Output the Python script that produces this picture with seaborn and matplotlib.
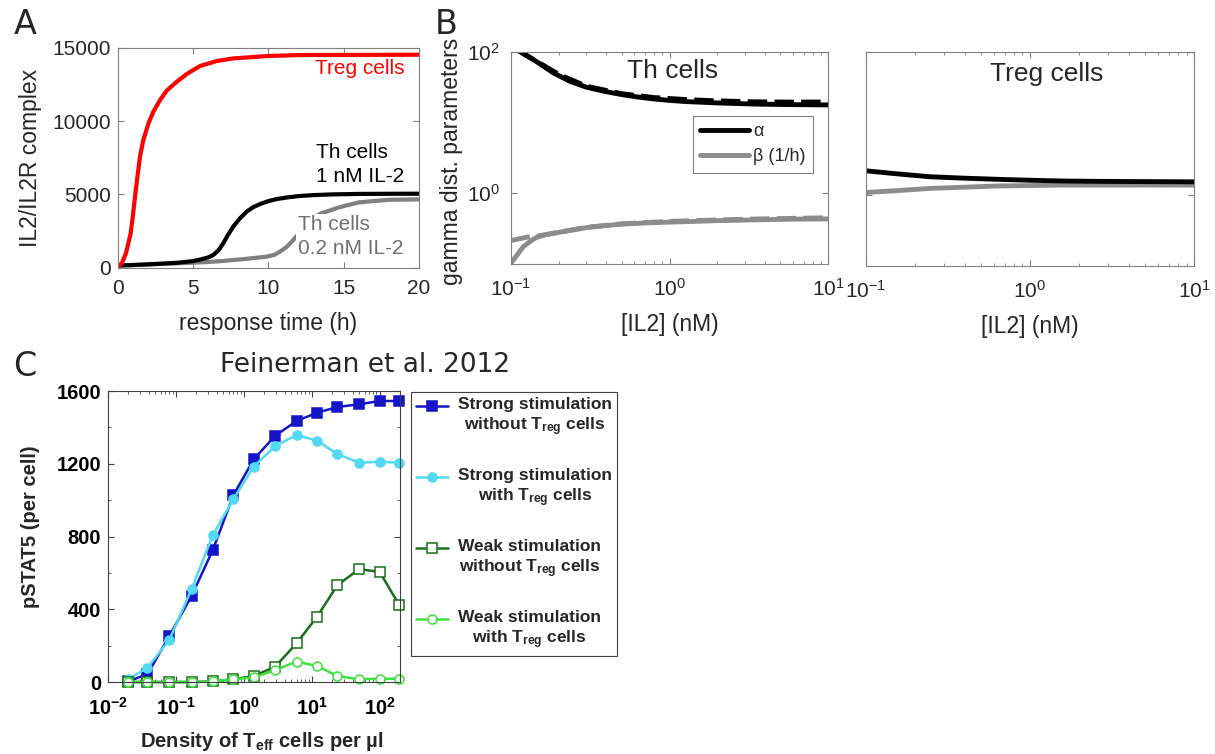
import matplotlib
matplotlib.use("Agg")
import matplotlib.pyplot as plt
import seaborn as sns
from matplotlib.ticker import LogLocator, NullLocator, NullFormatter, MultipleLocator
from matplotlib.font_manager import FontProperties
from matplotlib.legend_handler import HandlerLine2D

# ---- panel A: IL2/IL2R complex vs response time (h)
treg_t = [0, 0.27, 0.55, 0.86, 1.0, 1.15, 1.31, 1.48, 1.7, 2.04, 2.37, 2.81, 3.25, 3.92,
          4.58, 5.46, 6.57, 7.68, 9.89, 12.1, 20]
treg_v = [60, 300, 980, 2340, 3480, 4840, 6200, 7570, 8700, 9840, 10640, 11430, 12070, 12680,
          13200, 13750, 14090, 14270, 14430, 14500, 14520]

th1_t = [0, 1, 2, 3, 4, 5, 5.5, 6, 6.35, 6.7, 7.0, 7.3, 7.67, 8.1, 8.56, 9.0, 9.45, 10,
         10.55, 11.3, 12.1, 13, 14.3, 16, 18, 20]
th1_v = [150, 180, 230, 280, 340, 450, 560, 700, 870, 1200, 1650, 2200, 2800, 3350, 3820,
         4130, 4340, 4540, 4680, 4800, 4890, 4950, 5000, 5030, 5040, 5045]

th02_t = [0, 1, 2, 3, 4, 5, 6, 7, 7.67, 8.5, 9.2, 9.89, 10.4, 10.77, 11.2, 11.55, 12, 12.5,
          13, 13.5, 14, 14.5, 15, 16, 16.5, 18, 20]
th02_v = [150, 180, 220, 260, 300, 340, 390, 460, 525, 600, 680, 750, 880, 1090, 1400, 1770,
          2300, 2900, 3400, 3700, 3870, 4050, 4200, 4450, 4500, 4630, 4660]

# ---- panel B: gamma distribution parameters vs [IL2] (nM)
th_alpha_x = [0.112, 0.146, 0.186, 0.237, 0.301, 0.39, 0.489, 0.62, 0.793, 1.0, 1.285, 2.0,
              3.38, 5.5, 10]
th_alpha = [103, 72, 50, 38, 31.4, 27.5, 25, 23, 21.5, 20.5, 19.7, 18.9, 18.2, 17.9, 17.7]
th_alpha_d_x = [0.11, 0.146, 0.2, 0.3, 0.5, 0.8, 1.3, 2.0, 3.4, 6, 10]
th_alpha_d = [106, 73, 48, 32.5, 25.5, 22.5, 21, 20.2, 19.6, 19.4, 19.5]

th_beta_x = [0.1, 0.11, 0.12, 0.135, 0.146, 0.165, 0.186, 0.24, 0.301, 0.4, 0.489, 0.8,
             1.285, 2.0, 3.38, 6, 10]
th_beta = [0.102, 0.135, 0.176, 0.215, 0.239, 0.258, 0.272, 0.30, 0.327, 0.35, 0.365, 0.385,
           0.397, 0.41, 0.42, 0.43, 0.434]
th_beta_d_x = [0.1, 0.126, 0.15, 0.2, 0.3, 0.5, 1, 2, 4, 10]
th_beta_d = [0.214, 0.239, 0.25, 0.28, 0.33, 0.37, 0.40, 0.42, 0.435, 0.45]

treg_x = [0.1, 0.15, 0.246, 0.4, 0.627, 1.0, 1.6, 3, 10]
treg_alpha = [2.16, 1.97, 1.78, 1.70, 1.64, 1.59, 1.55, 1.53, 1.51]
treg_beta = [1.07, 1.13, 1.22, 1.27, 1.32, 1.34, 1.36, 1.36, 1.36]

# ---- panel C: Feinerman et al. 2012
density = [0.02, 0.038, 0.08, 0.17, 0.35, 0.7, 1.4, 2.9, 6.0, 12, 24, 50, 100, 195]
strong_no_treg = [5, 42, 253, 473, 726, 1026, 1224, 1354, 1435, 1481, 1512, 1527, 1545, 1545]
strong_treg = [15, 79, 231, 510, 808, 1004, 1184, 1297, 1358, 1327, 1253, 1206, 1211, 1206]
weak_no_treg = [0, 0, 0, 0, 3, 15, 33, 84, 213, 359, 533, 620, 606, 423]
weak_treg = [0, 0, 0, 0, 3, 15, 25, 66, 112, 88, 33, 15, 18, 18]
legend_c = ["Strong stimulation\nwithout $\\mathbf{T_{reg}}$ cells",
            "Strong stimulation\nwith $\\mathbf{T_{reg}}$ cells",
            "Weak stimulation\nwithout $\\mathbf{T_{reg}}$ cells",
            "Weak stimulation\nwith $\\mathbf{T_{reg}}$ cells"]

sns.set_style("ticks")
plt.rcParams["font.family"] = ["Liberation Sans", "DejaVu Sans"]
plt.rcParams["mathtext.fontset"] = "custom"
plt.rcParams["mathtext.rm"] = "Liberation Sans"
plt.rcParams["mathtext.it"] = "Liberation Sans:italic"
plt.rcParams["mathtext.bf"] = "Liberation Sans:bold"

W, H = 1215, 754
fig = plt.figure(figsize=(12.15, 7.54), dpi=100)


def box(l, t, r, b):
    return [l / W, 1 - b / H, (r - l) / W, (b - t) / H]


def matlab_axes(ax, color="#808080", size=15):
    for s in ax.spines.values():
        s.set_visible(True)
        s.set_color(color)
        s.set_linewidth(0.8)
    ax.tick_params(which="both", direction="in", top=True, right=True, color=color,
                   labelcolor="#262626", labelsize=size)
    ax.tick_params(which="major", length=4.5)
    ax.tick_params(which="minor", length=2.5)


class FirstLineHandler(HandlerLine2D):
    # put the legend line next to the first text line, as in the original
    def create_artists(self, legend, orig_handle, xdescent, ydescent, width, height,
                       fontsize, trans):
        arts = super().create_artists(legend, orig_handle, xdescent, ydescent, width,
                                      height, fontsize, trans)
        for a in arts:
            a.set_ydata([y + 0.68 * fontsize for y in a.get_ydata()])
        return arts


# ---------------- A
axA = fig.add_axes(box(117.7, 47.7, 419, 267.7))
sns.lineplot(x=th02_t, y=th02_v, color="#808080", lw=3, ax=axA)
sns.lineplot(x=th1_t, y=th1_v, color="black", lw=3, ax=axA)
sns.lineplot(x=treg_t, y=treg_v, color="red", lw=3, ax=axA)
axA.set_xlim(0, 20)
axA.set_ylim(0, 15000)
axA.set_xticks([0, 5, 10, 15, 20])
axA.set_yticks([0, 5000, 10000, 15000])
matlab_axes(axA)
axA.tick_params(axis="x", pad=8)
axA.tick_params(axis="y", pad=5)
axA.set_xlabel("response time (h)", fontsize=16.5, color="#262626")
axA.set_ylabel("IL2/IL2R complex", fontsize=16.5, color="#262626")
axA.xaxis.set_label_coords(0.5, -0.2)
axA.yaxis.set_label_coords(-0.251, 0.5)
axA.text(13.1, 13600, "Treg cells", color="red", fontsize=15, va="center")
axA.text(13.15, 7040, "Th cells\n1 nM IL-2", color="black", fontsize=15, va="center",
         linespacing=1.3)
axA.text(11.95, 2130, "Th cells\n0.2 nM IL-2", color="#707070", fontsize=15, va="center",
         linespacing=1.3, bbox=dict(facecolor="white", edgecolor="none", pad=1))

# ---------------- B (Th cells)
axB1 = fig.add_axes(box(510.7, 51.7, 828.3, 264))
sns.lineplot(x=th_beta_d_x, y=th_beta_d, color="#8c8c8c", lw=3.5, ls=(0, (4, 1.5)), ax=axB1)
sns.lineplot(x=th_alpha_d_x, y=th_alpha_d, color="black", lw=3.5, ls=(0, (4, 1.5)), ax=axB1)
sns.lineplot(x=th_beta_x, y=th_beta, color="#8c8c8c", lw=3.5, ax=axB1, label="β (1/h)",
             legend=False)
beta_line = axB1.lines[-1]
sns.lineplot(x=th_alpha_x, y=th_alpha, color="black", lw=3.5, ax=axB1, label="α",
             legend=False)
alpha_line = axB1.lines[-1]

# ---------------- B (Treg cells)
axB2 = fig.add_axes(box(865.7, 52.3, 1194.3, 265.7))
sns.lineplot(x=treg_x, y=treg_beta, color="#8c8c8c", lw=3.5, ax=axB2)
sns.lineplot(x=treg_x, y=treg_alpha, color="black", lw=3.5, ax=axB2)

for ax in (axB1, axB2):
    ax.set_xscale("log")
    ax.set_yscale("log")
    ax.set_xlim(0.1, 10)
    ax.set_ylim(0.1, 100)
    ax.set_yticks([1, 100])
    ax.yaxis.set_minor_locator(NullLocator())
    ax.xaxis.set_minor_locator(LogLocator(base=10, subs=range(2, 10)))
    ax.xaxis.set_minor_formatter(NullFormatter())
    matlab_axes(ax)
    ax.tick_params(axis="x", pad=10)
    ax.tick_params(axis="y", pad=8)
    ax.set_xlabel("[IL2] (nM)", fontsize=16.5, color="#262626")
    ax.xaxis.set_label_coords(0.5, -0.23)
axB2.set_yticklabels([])
axB1.set_ylabel("gamma dist. parameters", fontsize=16.5, color="#262626")
axB1.yaxis.set_label_coords(-0.15, 0.483)
axB1.text(0.511, 0.909, "Th cells", transform=axB1.transAxes, ha="center", va="center",
          fontsize=19)
axB2.text(0.55, 0.898, "Treg cells", transform=axB2.transAxes, ha="center", va="center",
          fontsize=19)
legB = axB1.legend([alpha_line, beta_line], ["α", "β (1/h)"], loc="upper left",
                   bbox_to_anchor=((692.7 - 510.7) / 317.6, 1 - (116 - 51.7) / 212.3),
                   borderaxespad=0, fontsize=13, handlelength=2.7, handletextpad=0.25,
                   labelspacing=0.45, borderpad=0.4, fancybox=False, framealpha=1)
legB.get_frame().set_edgecolor("#808080")
legB.get_frame().set_linewidth(0.8)

# ---------------- C
axC = fig.add_axes(box(108, 391, 400, 682))
styles = [
    (strong_no_treg, "#1414c8", "s", "#1414c8"),
    (strong_treg, "#52daf3", "o", "#52daf3"),
    (weak_no_treg, "#1b6e1b", "s", "white"),
    (weak_treg, "#3fe03f", "o", "white"),
]
c_lines = []
for vals, col, mk, face in styles:
    sns.lineplot(x=density, y=vals, color=col, lw=1.8, marker=mk, markersize=6.5,
                 markerfacecolor=face, markeredgecolor=col, markeredgewidth=1.1,
                 clip_on=False, ax=axC)
    c_lines.append(axC.lines[-1])
axC.set_xscale("log")
axC.set_xlim(0.01, 200)
axC.set_ylim(0, 1600)
axC.set_xticks([0.01, 0.1, 1, 10, 100],
               [r"$\mathbf{10^{-2}}$", r"$\mathbf{10^{-1}}$", r"$\mathbf{10^{0}}$",
                r"$\mathbf{10^{1}}$", r"$\mathbf{10^{2}}$"])
axC.xaxis.set_minor_locator(LogLocator(base=10, subs=range(2, 10)))
axC.xaxis.set_minor_formatter(NullFormatter())
axC.set_yticks([0, 400, 800, 1200, 1600])
axC.yaxis.set_minor_locator(MultipleLocator(200))
matlab_axes(axC, color="#404040", size=14.5)
for lab in axC.get_yticklabels():
    lab.set_fontweight("bold")
axC.tick_params(axis="x", pad=11, labelcolor="black")
axC.tick_params(axis="y", pad=5, labelcolor="black")
axC.set_xlabel("Density of $\\mathbf{T_{eff}}$ cells per µl", fontsize=14.5,
               fontweight="bold")
axC.set_ylabel("pSTAT5 (per cell)", fontsize=14.5, fontweight="bold")
axC.xaxis.set_label_coords(0.526, -0.165)
axC.yaxis.set_label_coords(-0.233, 0.534)
legC = fig.legend(c_lines, legend_c, loc="upper left",
                  bbox_to_anchor=(411 / W, 1 - 392 / H), borderaxespad=0,
                  prop=FontProperties(family="Liberation Sans", weight="bold", size=12.5),
                  handlelength=1.85, handletextpad=0.55, labelspacing=1.75, borderpad=0.3,
                  fancybox=False, framealpha=1,
                  handler_map={l: FirstLineHandler() for l in c_lines})
legC.get_frame().set_edgecolor("#404040")
legC.get_frame().set_linewidth(0.8)
for t in legC.get_texts():
    t.set_multialignment("center")

fig.text(365 / W, 1 - 365 / H, "Feinerman et al. 2012", family="DejaVu Sans", fontsize=19,
         ha="center", va="center")

# panel letters
for letter, x, y in [("A", 25, 24.5), ("B", 446, 24.5), ("C", 25, 367)]:
    fig.text(x / W, 1 - y / H, letter, family="DejaVu Sans", fontsize=24, ha="center",
             va="center")

fig.savefig("out.png", dpi=100)
